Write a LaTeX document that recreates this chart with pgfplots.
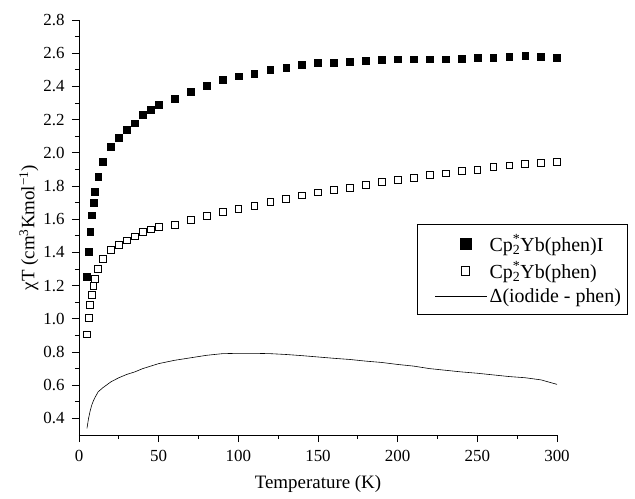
\documentclass[border=0pt]{standalone}
\usepackage{fontspec}
\setmainfont{Liberation Serif}
\usepackage{pgfplots}
\pgfplotsset{compat=1.18}

% chi*T vs T
\pgfplotstableread{
T    iodide
5    1.253
6    1.406
7    1.527
8    1.624
9    1.697
10   1.764
12   1.858
15   1.945
20   2.035
25   2.093
30   2.139
35   2.178
40   2.230
45   2.262
50   2.289
60   2.325
70   2.368
80   2.406
90   2.442
100  2.461
110  2.477
120  2.499
130  2.515
140  2.529
150  2.541
160  2.545
170  2.548
180  2.556
190  2.560
200  2.564
210  2.564
220  2.564
230  2.564
240  2.568
250  2.574
260  2.574
270  2.578
280  2.584
290  2.578
300  2.572
}\iodidedata

\pgfplotstableread{
T    phen
5    0.907
6    1.006
7    1.085
8    1.145
9    1.198
10   1.241
12   1.299
15   1.362
20   1.416
25   1.448
30   1.473
35   1.497
40   1.523
45   1.539
50   1.552
60   1.568
70   1.594
80   1.620
90   1.644
100  1.662
110  1.680
120  1.706
130  1.725
140  1.744
150  1.762
160  1.776
170  1.790
180  1.808
190  1.824
200  1.836
210  1.848
220  1.867
230  1.877
240  1.891
250  1.897
260  1.915
270  1.925
280  1.932
290  1.938
300  1.947
}\phendata

\pgfplotstableread{
T    diff
5    0.340
6    0.400
7    0.445
8    0.480
9    0.505
10   0.525
12   0.560
15   0.585
20   0.620
25   0.645
30   0.665
35   0.680
40   0.700
45   0.715
50   0.730
60   0.750
70   0.765
80   0.780
90   0.790
100  0.792
110  0.792
120  0.790
130  0.785
140  0.778
150  0.770
160  0.762
170  0.755
180  0.745
190  0.737
200  0.725
210  0.715
220  0.700
230  0.690
240  0.680
250  0.672
260  0.662
270  0.652
280  0.645
290  0.632
300  0.605
}\diffdata

\begin{document}
\begin{tikzpicture}
% fixed page: plot area is 478x415, placed at (0,0)
\useasboundingbox (-79bp,-63.3bp) rectangle (556bp,435bp);
\begin{axis}[
  at={(0,0)}, anchor=south west,
  scale only axis,
  width=478bp, height=415bp,
  xmin=0, xmax=300,
  ymin=0.3, ymax=2.8,
  axis lines=left,
  axis line style={-, line width=0.8pt},
  tick align=outside,
  tick style={black, line width=0.7pt},
  major tick length=7bp,
  minor tick length=4bp,
  xtick={0,50,100,150,200,250,300},
  ytick={0.4,0.6,0.8,1.0,1.2,1.4,1.6,1.8,2.0,2.2,2.4,2.6,2.8},
  minor x tick num=1,
  minor y tick num=1,
  /pgf/number format/assume math mode=true,
  ticklabel style={font=\fontsize{17}{19}\selectfont},
  xticklabel style={yshift=-5bp},
  yticklabel style={xshift=-4bp, /pgf/number format/.cd, fixed, fixed zerofill, precision=1},
  xlabel={Temperature (K)},
  ylabel={χT (cm\textsuperscript{3}Kmol\textsuperscript{−1})},
  label style={font=\fontsize{19}{21}\selectfont},
  xlabel style={yshift=-7bp},
  ylabel style={yshift=-2bp},
  legend style={
    at={(rel axis cs:0.7065,0.5077)}, anchor=north west,
    draw=black, line width=0.7pt,
    font=\fontsize{20}{22}\selectfont,
    inner xsep=4bp, inner ysep=8bp,
    row sep=5bp,
  },
  legend cell align=left,
]
\addplot[only marks, mark=square*, mark size=3.4bp, black,
  legend image code/.code={\path (0bp,0bp) (64bp,0bp);
    \draw[black, mark=square*, mark size=5.5bp, only marks] plot coordinates {(44bp,0bp)};}]
  table[x=T, y=iodide] {\iodidedata};
\addlegendentry{Cp\rlap{\textsuperscript{*}}\textsubscript{2}Yb(phen)I}

\addplot[only marks, mark=square, mark size=3.4bp, black, mark options={line width=0.6pt},
  legend image code/.code={\path (0bp,0bp) (64bp,0bp);
    \draw[black, mark=square, mark size=4.3bp, line width=0.6pt, only marks] plot coordinates {(44bp,0bp)};}]
  table[x=T, y=phen] {\phendata};
\addlegendentry{Cp\rlap{\textsuperscript{*}}\textsubscript{2}Yb(phen)}

\addplot[black, line width=0.6pt, no marks,
  legend image code/.code={\path (0bp,0bp) (64bp,0bp);
    \draw[black, line width=0.6pt] (14bp,0bp) -- (66bp,0bp);}]
  table[x=T, y=diff] {\diffdata};
\addlegendentry{Δ(iodide - phen)}
\end{axis}
\end{tikzpicture}
\end{document}
